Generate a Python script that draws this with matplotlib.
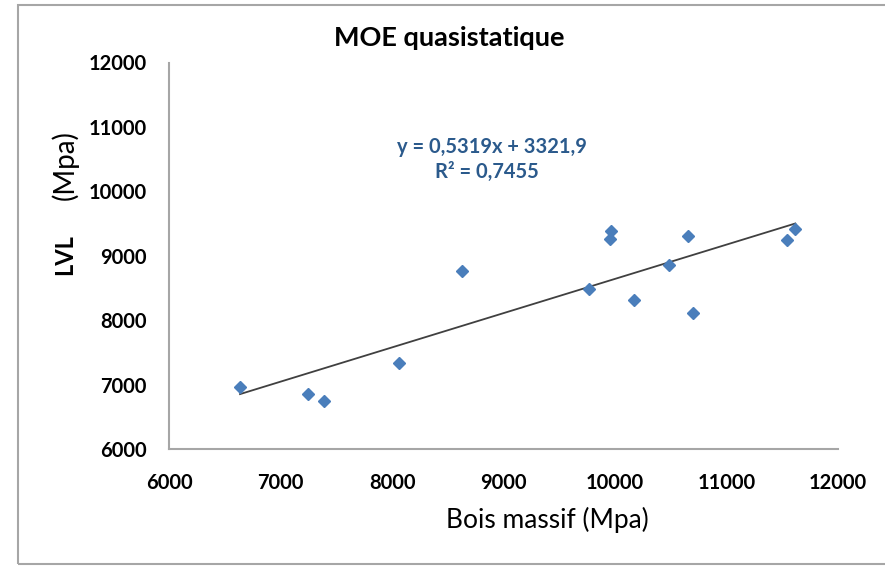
import matplotlib
matplotlib.use("Agg")
import matplotlib.pyplot as plt
import numpy as np
from matplotlib.patches import Rectangle

# ── データ ──────────────────────────
bois_massif = [6637, 7249, 7390, 8060, 8625, 9770, 9961, 9955,
               10170, 10487, 10652, 10702, 11540, 11617]
lvl = [6970, 6857, 6738, 7339, 8756, 8488, 9382, 9253,
       8317, 8860, 9300, 8109, 9238, 9413]
slope, intercept = 0.5319, 3321.9
r2 = 0.7455
ticks = [6000, 7000, 8000, 9000, 10000, 11000, 12000]

plt.rcParams["font.family"] = ["Lato", "DejaVu Sans"]

W, H = 885, 566
fig = plt.figure(figsize=(W / 100, H / 100), dpi=100)
ax = fig.add_axes([169 / W, 1 - 449 / H, (838 - 169) / W, (449 - 62.5) / H])

# 外枠（Excel のグラフエリア）
fig.patches.append(Rectangle((18 / W, 1 - 564 / H), 1.2, (564 - 5) / H,
                             transform=fig.transFigure, fill=False,
                             edgecolor="#a6a6a6", linewidth=1.5))

# 散布図
ax.plot(bois_massif, lvl, linestyle="none", marker="D", markersize=6.6,
        color="#4a7ebb", zorder=3)

# 近似直線
xs = np.array([min(bois_massif), max(bois_massif)])
ax.plot(xs, slope * xs + intercept, color="#404040", linewidth=1.3, zorder=2)

ax.set_xlim(6000, 12000)
ax.set_ylim(6000, 12000)
ax.set_xticks(ticks)
ax.set_yticks(ticks)
ax.tick_params(length=0, labelsize=14.5)
ax.tick_params(axis="x", pad=17)
ax.tick_params(axis="y", pad=16)
for lab in ax.get_xticklabels() + ax.get_yticklabels():
    lab.set_fontweight("bold")

for s in ("top", "right"):
    ax.spines[s].set_visible(False)
for s in ("left", "bottom"):
    ax.spines[s].set_color("#a6a6a6")
    ax.spines[s].set_linewidth(1.5)

# テキスト
fig.text(449 / W, 1 - 38 / H, "MOE quasistatique", ha="center", va="center",
         fontsize=19.5, fontweight="bold")
fig.text(547 / W, 1 - 520 / H, "Bois massif (Mpa)", ha="center", va="center",
         fontsize=19)
fig.text(65 / W, 1 - 255 / H, "LVL", ha="center", va="center", rotation=90,
         fontsize=17, fontweight="bold")
fig.text(65 / W, 1 - 165 / H, "(Mpa)", ha="center", va="center", rotation=90,
         fontsize=20)

eq = f"y = {slope:.4f}x + {intercept:.1f}".replace(".", ",")
r2_txt = f"R² = {r2:.4f}".replace(".", ",")
fig.text(492 / W, 1 - 147 / H, eq, ha="center", va="center",
         fontsize=14.5, fontweight="bold", color="#2b5a8c")
fig.text(487 / W, 1 - 172 / H, r2_txt, ha="center", va="center",
         fontsize=14.5, fontweight="bold", color="#2b5a8c")

fig.savefig("out.png", dpi=100)
